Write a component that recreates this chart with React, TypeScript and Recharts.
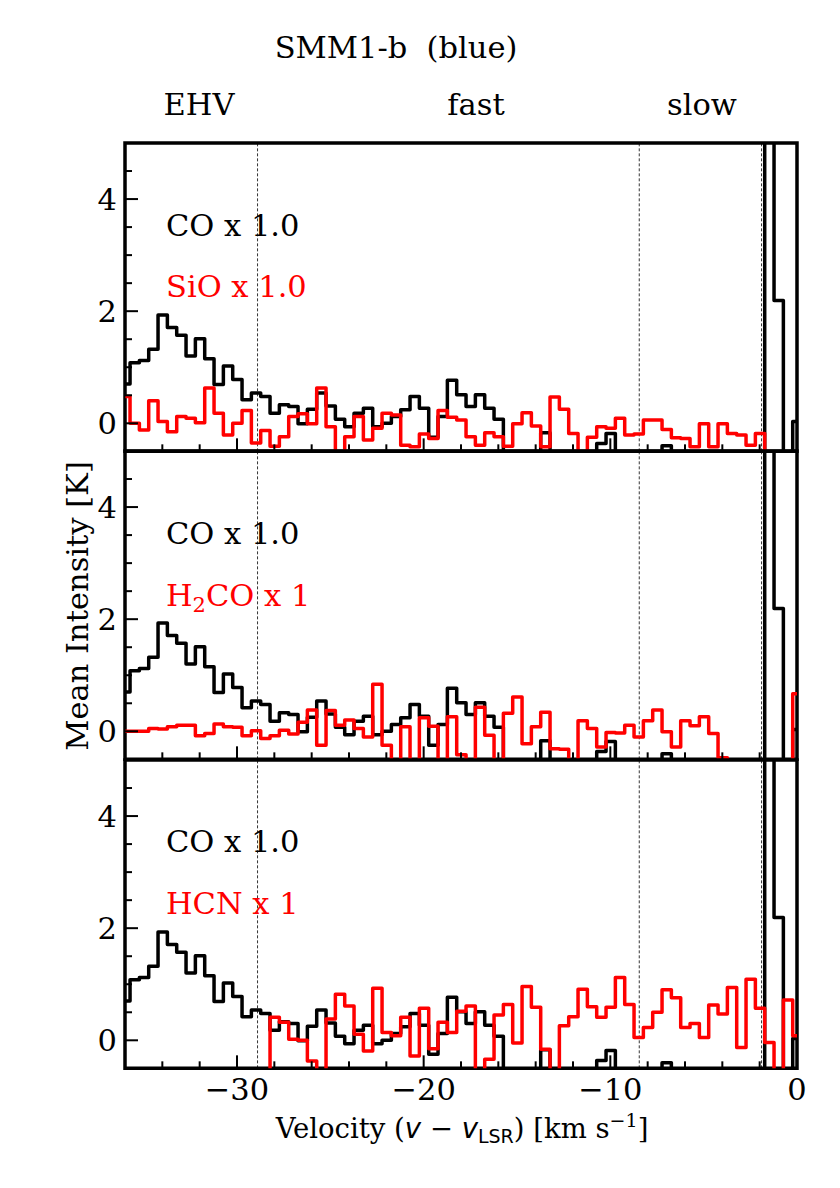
import React from 'react';
import { LineChart, Line, XAxis, YAxis, ReferenceLine, ReferenceArea } from 'recharts';

// channel grid: centre of the first channel and channel width (km/s)
const V0 = -35.98;
const DV = 0.5;

// CO mean intensity per channel (same in every panel); -1 = below the plotted range, 9 = above it
const CO = [
  0.70, 1.08, 1.12, 1.32, 1.93, 1.71, 1.57, 1.20, 1.51, 1.15,
  0.69, 1.02, 0.78, 0.42, 0.54, 0.48, 0.18, 0.33, 0.30, -0.01,
  0.25, 0.54, 0.31, 0.07, -0.06, 0.18, 0.27, -0.06, 0.00, 0.12,
  0.24, 0.48, 0.27, -0.25, 0.12, 0.77, 0.51, 0.30, 0.51, 0.27,
  0.07, -1, -1, -1, -1, -0.17, -1, -1, -1, -1,
  -1, -0.36, -0.18, -1, -1, -1, -1, -1, -0.40, -1,
  -1, -1, -1, -1, -1, -1, -1, -1, -1, 9,
  2.19, -1, 0.03,
];

const SIO = [
  0.48, 0.00, -0.12, 0.40, 0.03, -0.15, 0.12, 0.09, 0.01, 0.63,
  0.18, -0.21, 0.00, 0.23, -0.35, -0.13, -0.41, -0.24, 0.12, 0.17,
  -0.01, 0.63, -0.06, -1, -0.24, 0.12, -0.30, -0.09, 0.18, 0.15,
  -0.39, -0.42, -0.19, -0.27, 0.23, 0.11, 0.06, -0.24, -0.39, -0.17,
  -0.24, -0.41, -0.01, 0.19, -0.05, -0.42, 0.47, 0.25, -0.18, -1,
  -0.25, -0.06, -0.09, 0.09, -0.21, -0.19, 0.06, 0.06, -0.11, -0.26,
  -0.27, -0.42, -0.01, -0.42, -0.01, -0.18, -0.21, -0.39, -0.18, -1,
  -1, -1, -1,
];

const H2CO = [
  0.00, 0.00, 0.00, 0.05, 0.04, 0.08, 0.11, 0.11, -0.08, -0.04,
  0.13, 0.08, 0.07, -0.08, 0.01, -0.13, -0.08, 0.02, -0.05, 0.16,
  0.38, -0.25, 0.37, 0.11, 0.20, 0.05, -0.10, 0.84, -0.25, -1,
  0.08, -1, 0.24, 0.09, -1, 0.26, -0.42, -1, 0.43, -0.07,
  -1, 0.32, 0.61, -0.22, 0.08, 0.34, -0.31, -0.32, -1, 0.19,
  0.05, -0.28, -0.02, -0.03, 0.11, -0.10, 0.19, 0.38, -0.01, -0.28,
  0.19, 0.10, 0.26, -0.04, -0.47, -1, -1, -1, -1, -1,
  -1, -1, 0.67,
];

const HCN = [
  -1, -1, -1, -1, -1, -1, -1, -1, -1, -1,
  -1, -1, -1, -1, -1, -1, 0.41, 0.32, 0.02, 0.00,
  -0.37, -1, 0.38, 0.82, 0.61, 0.11, -0.19, 0.93, 0.14, 0.08,
  0.41, -0.28, 0.57, -0.15, 0.32, 0.14, 0.52, 0.61, -1, -0.34,
  0.45, 0.64, -0.05, 0.96, 0.59, -0.16, -1, 0.26, 0.42, 0.91,
  0.60, 0.41, 0.59, 1.12, 0.64, 0.05, 0.23, 0.50, 0.90, 0.76,
  0.23, 0.30, 0.05, 0.63, 0.47, 0.94, -0.13, 1.09, 0.57, -0.04,
  -1, 0.72, 0.08,
];

const DIVIDERS = [-28.9, -8.45, -1.9];
const X_TICKS = [-34, -32, -30, -28, -26, -24, -22, -20, -18, -16, -14, -12, -10, -8, -6, -4, -2, 0];
const X_MAJOR = [-30, -20, -10, 0];
const Y_TICKS = [0, 0.5, 1, 1.5, 2, 2.5, 3, 3.5, 4, 4.5];
const Y_MAJOR = [0, 2, 4];
const X_DOMAIN = [-36, 0];
const Y_DOMAIN = [-0.5, 5];

const PANELS = [
  { key: 'sio', values: SIO },
  { key: 'h2co', values: H2CO },
  { key: 'hcn', values: HCN },
];

const FONT = 'DejaVu Serif';
const FS = 30.5;
const PLOT_TOP = 143;
const PANEL_H = 308.33;
const MARGIN_TOP = 10;
const XAXIS_H = 60;

const fmtX = (v: number) => (v < 0 ? '\u2212' + Math.abs(v) : String(v));

const YTick = (props: any) => {
  const { x, y, payload } = props;
  const major = Y_MAJOR.includes(payload.value);
  return (
    <g>
      <line x1={x} x2={x + (major ? 13 : 7)} y1={y} y2={y} stroke="#000" strokeWidth={2} />
      {major && (
        <text x={x - 8} y={y} dy="0.36em" textAnchor="end" fontSize={FS} fontFamily={FONT} fill="#000">
          {payload.value}
        </text>
      )}
    </g>
  );
};

const makeXTick = (labels: boolean) => (props: any) => {
  const { x, y, payload } = props;
  const major = X_MAJOR.includes(payload.value);
  return (
    <g>
      <line x1={x} x2={x} y1={y} y2={y - (major ? 13 : 7)} stroke="#000" strokeWidth={2} />
      {labels && major && (
        <text x={x} y={y + 32} textAnchor="middle" fontSize={FS} fontFamily={FONT} fill="#000">
          {fmtX(payload.value)}
        </text>
      )}
    </g>
  );
};

const Panel = ({ values, index }: { values: number[]; index: number }) => {
  const data = CO.map((co, i) => ({ v: V0 + DV * i, co, red: values[i] }));
  const isLast = index === PANELS.length - 1;
  return (
    <div style={{ position: 'absolute', left: 0, top: PLOT_TOP + index * PANEL_H - MARGIN_TOP }}>
      <LineChart
        width={840}
        height={MARGIN_TOP + PANEL_H + XAXIS_H}
        data={data}
        margin={{ top: MARGIN_TOP, right: 43, bottom: 0, left: 0 }}
      >
        <XAxis
          xAxisId="b"
          dataKey="v"
          type="number"
          domain={X_DOMAIN}
          allowDataOverflow
          ticks={X_TICKS}
          interval={0}
          height={XAXIS_H}
          tickSize={0}
          tickMargin={0}
          tickLine={false}
          axisLine={false}
          tick={makeXTick(isLast)}
        />
        <YAxis
          yAxisId="l"
          type="number"
          domain={Y_DOMAIN}
          allowDataOverflow
          ticks={Y_TICKS}
          interval={0}
          width={125}
          tickSize={0}
          tickMargin={0}
          tickLine={false}
          axisLine={false}
          tick={YTick}
        />
        {DIVIDERS.map((d) => (
          <ReferenceLine
            key={d}
            x={d}
            xAxisId="b"
            yAxisId="l"
            stroke="#000"
            strokeWidth={0.8}
            strokeDasharray="3 2"
          />
        ))}
        <Line
          xAxisId="b"
          yAxisId="l"
          dataKey="co"
          type="step"
          stroke="#000"
          strokeWidth={3.5}
          strokeLinejoin="round"
          dot={false}
          activeDot={false}
          isAnimationActive={false}
        />
        <Line
          xAxisId="b"
          yAxisId="l"
          dataKey="red"
          type="step"
          stroke="#ff0000"
          strokeWidth={3.5}
          strokeLinejoin="round"
          dot={false}
          activeDot={false}
          isAnimationActive={false}
        />
        <ReferenceArea
          xAxisId="b"
          yAxisId="l"
          x1={X_DOMAIN[0]}
          x2={X_DOMAIN[1]}
          y1={Y_DOMAIN[0]}
          y2={Y_DOMAIN[1]}
          fill="none"
          fillOpacity={0}
          stroke="#000"
          strokeWidth={3.5}
        />
      </LineChart>
    </div>
  );
};

const PanelLabels = ({ index }: { index: number }) => {
  const top = PLOT_TOP + index * PANEL_H;
  const redY = top + 154.3;
  return (
    <g fontFamily={FONT} fontSize={FS}>
      <text x={166} y={top + 92.5} fill="#000">CO x 1.0</text>
      {index === 0 && <text x={166} y={redY} fill="#ff0000">SiO x 1.0</text>}
      {index === 1 && (
        <text x={166} y={redY} fill="#ff0000">
          H<tspan fontSize={21} dy={6}>2</tspan>
          <tspan dy={-6}>CO x 1</tspan>
        </text>
      )}
      {index === 2 && <text x={166} y={redY} fill="#ff0000">HCN x 1</text>}
    </g>
  );
};

export default function App() {
  return (
    <div style={{ position: 'absolute', left: 0, top: 0, width: 840, height: 1188, background: '#fff' }}>
      {PANELS.map((p, i) => (
        <Panel key={p.key} values={p.values} index={i} />
      ))}
      <svg
        width={840}
        height={1188}
        style={{ position: 'absolute', left: 0, top: 0, pointerEvents: 'none' }}
      >
        <g fontFamily={FONT} fontSize={FS} fill="#000">
          <text x={396} y={58} textAnchor="middle" style={{ whiteSpace: 'pre' }}>SMM1-b  (blue)</text>
          <text x={199} y={115} textAnchor="middle">EHV</text>
          <text x={476} y={115} textAnchor="middle">fast</text>
          <text x={702} y={115} textAnchor="middle">slow</text>
          <text x={88} y={606} textAnchor="middle" transform="rotate(-90 88 606)">Mean Intensity [K]</text>
          <text x={462} y={1138} textAnchor="middle" fontSize={27.5}>
            Velocity (
            <tspan fontFamily="DejaVu Sans" fontStyle="italic">v</tspan>
            <tspan fontFamily="DejaVu Sans"> {'\u2212'} </tspan>
            <tspan fontFamily="DejaVu Sans" fontStyle="italic">v</tspan>
            <tspan fontFamily="DejaVu Sans" fontSize={19} dy={5}>LSR</tspan>
            <tspan dy={-5}>) [km s</tspan>
            <tspan fontSize={19} dy={-11}>{'\u2212'}1</tspan>
            <tspan dy={11}>]</tspan>
          </text>
        </g>
        {PANELS.map((p, i) => (
          <PanelLabels key={p.key} index={i} />
        ))}
      </svg>
    </div>
  );
}
